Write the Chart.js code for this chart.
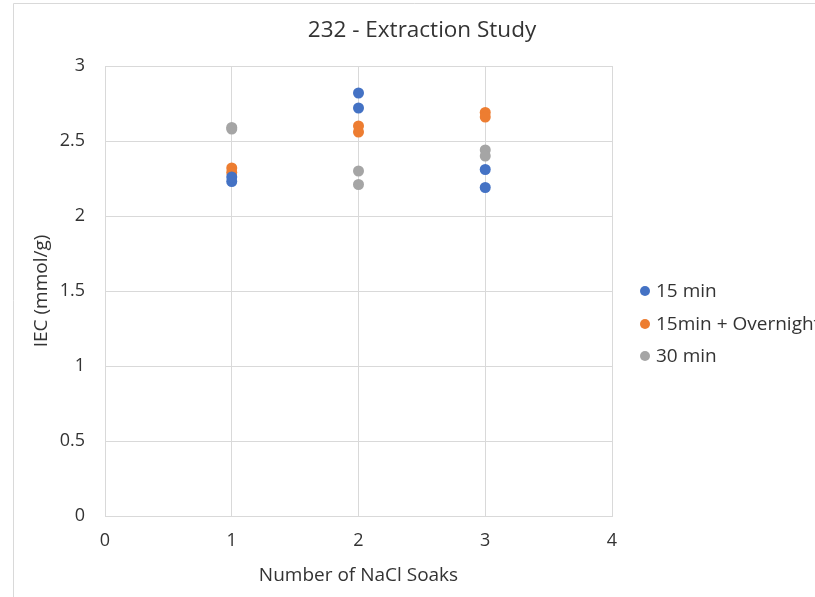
<!DOCTYPE html>
<html>
<head>
<meta charset="utf-8">
<script src="https://cdn.jsdelivr.net/npm/chart.js@4/dist/chart.umd.min.js"></script>
<style>
  html, body { margin: 0; padding: 0; background: #fff; overflow: hidden; }
</style>
</head>
<body>
<canvas id="chart" width="815" height="597"></canvas>
<script>
// number of NaCl soaks for each measurement
const soaks = [1, 1, 2, 2, 3, 3];

// IEC values (mmol/g)
const iec15 = [2.23, 2.26, 2.82, 2.72, 2.31, 2.19];
const iec15Overnight = [2.32, 2.29, 2.60, 2.56, 2.69, 2.66];
const iec30 = [2.59, 2.58, 2.30, 2.21, 2.44, 2.40];

const seriesNames = ['15 min', '15min + Overnight', '30 min'];
const seriesColors = ['#4472C4', '#ED7D31', '#A5A5A5'];
const chartTitle = '232 - Extraction Study';

const FONT = '"Open Sans", "Liberation Sans", sans-serif';
const TEXT = '#333333';
const GRID = '#d9d9d9';

function toPoints(ys) {
    return ys.map((y, i) => ({ x: soaks[i], y: y }));
}

// outer frame, title centred over the frame, legend right of the plot
const extras = {
    id: 'extras',
    beforeDraw(chart) {
        const ctx = chart.ctx;
        ctx.save();
        ctx.strokeStyle = GRID;
        ctx.lineWidth = 1;
        ctx.beginPath();
        ctx.moveTo(13.5, chart.height);
        ctx.lineTo(13.5, 3.5);
        ctx.lineTo(chart.width, 3.5);
        ctx.stroke();
        ctx.restore();
    },
    afterDraw(chart) {
        const ctx = chart.ctx;
        ctx.save();
        ctx.font = '22.5px ' + FONT;
        ctx.fillStyle = TEXT;
        ctx.textAlign = 'center';
        ctx.textBaseline = 'middle';
        ctx.fillText(chartTitle, 422, 31);

        const x = 645;
        const rows = [291, 324, 356];
        ctx.font = '19px ' + FONT;
        ctx.textAlign = 'left';
        chart.data.datasets.forEach((ds, i) => {
            ctx.fillStyle = ds.backgroundColor;
            ctx.beginPath();
            ctx.arc(x, rows[i], 5, 0, Math.PI * 2);
            ctx.fill();
            ctx.fillStyle = TEXT;
            ctx.fillText(ds.label, x + 11, rows[i] + 1);
        });
        ctx.restore();
    }
};

function initChart() {
    const ctx = document.getElementById('chart').getContext('2d');
    const datasets = [iec15, iec15Overnight, iec30].map((ys, i) => ({
        label: seriesNames[i],
        data: toPoints(ys),
        backgroundColor: seriesColors[i],
        borderColor: seriesColors[i],
        pointRadius: 5.5,
        pointBorderWidth: 0,
        showLine: false
    }));

    new Chart(ctx, {
        type: 'scatter',
        data: { datasets: datasets },
        options: {
            responsive: false,
            animation: false,
            layout: { padding: { left: 0, right: 203, top: 66, bottom: 0 } },
            plugins: {
                legend: { display: false },
                tooltip: { enabled: false },
                title: { display: false }
            },
            scales: {
                x: {
                    type: 'linear',
                    min: 0,
                    max: 4,
                    ticks: { stepSize: 1, color: TEXT, padding: 14, font: { family: FONT, size: 18 } },
                    grid: { color: GRID, drawTicks: false },
                    border: { color: GRID },
                    title: {
                        display: true,
                        text: 'Number of NaCl Soaks',
                        color: TEXT,
                        font: { family: FONT, size: 19 },
                        padding: { top: 4, bottom: 10 }
                    },
                    afterFit(scale) { scale.height = 81; }
                },
                y: {
                    min: 0,
                    max: 3,
                    ticks: {
                        stepSize: 0.5,
                        color: TEXT,
                        padding: 20,
                        font: { family: FONT, size: 18 },
                        callback: (v) => String(v)
                    },
                    grid: { color: GRID, drawTicks: false },
                    border: { color: GRID },
                    title: {
                        display: true,
                        text: 'IEC (mmol/g)',
                        color: TEXT,
                        font: { family: FONT, size: 19 },
                        padding: { top: 30, bottom: 4 }
                    },
                    afterFit(scale) { scale.width = 105; }
                }
            }
        },
        plugins: [extras]
    });
}

initChart();
</script>
</body>
</html>
